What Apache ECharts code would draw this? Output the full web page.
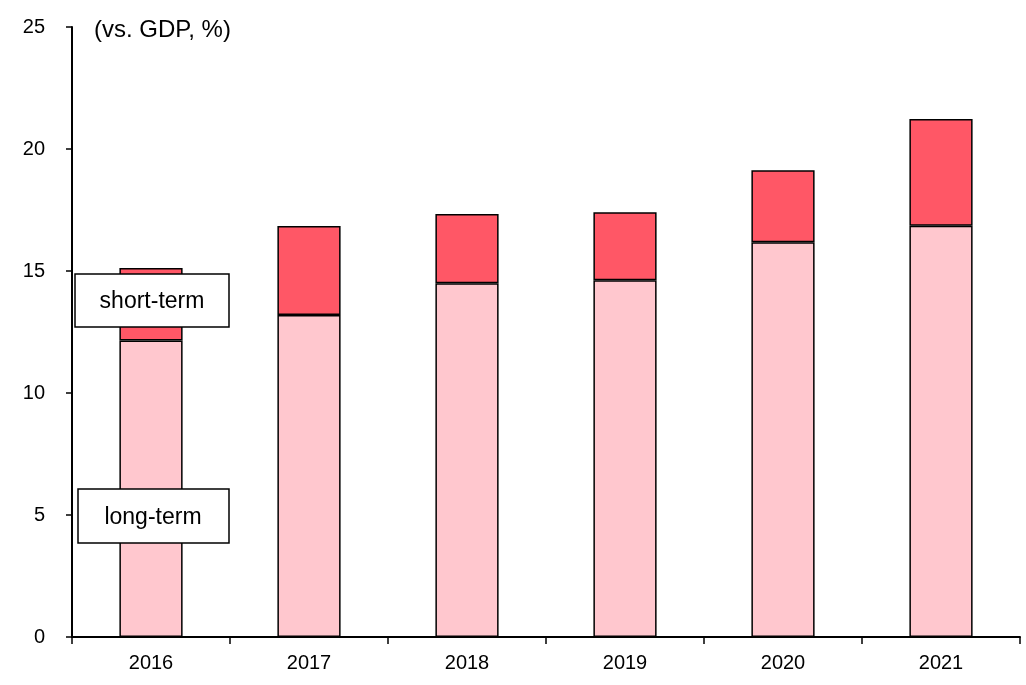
<!DOCTYPE html>
<html>
<head>
<meta charset="utf-8">
<script src="https://cdn.jsdelivr.net/npm/echarts@6/dist/echarts.min.js"></script>
<style>html,body{margin:0;padding:0;background:#fff}#c{width:1026px;height:685px}</style>
</head>
<body>
<div id="c"></div>
<script>
const categories = ['2016', '2017', '2018', '2019', '2020', '2021'];
const longTerm = [12.15, 13.2, 14.5, 14.62, 16.18, 16.85];
const shortTerm = [2.97, 3.64, 2.84, 2.79, 2.95, 4.38];
const yTicks = [0, 5, 10, 15, 20, 25];

const chart = echarts.init(document.getElementById('c'));
const font = 'Liberation Sans, Arial, sans-serif';
chart.setOption({
  animation: false,
  grid: { left: 72, right: 6, top: 27, bottom: 48 },
  xAxis: {
    type: 'category', data: categories,
    axisLine: { lineStyle: { color: '#000', width: 2 } },
    axisTick: { show: true, length: 7, lineStyle: { color: '#000', width: 1.5 }, interval: 0 },
    axisLabel: { color: '#000', fontSize: 20, fontFamily: font, margin: 16 }
  },
  yAxis: {
    type: 'value', min: yTicks[0], max: yTicks[yTicks.length - 1], interval: 5,
    splitLine: { show: false },
    axisLine: { show: true, lineStyle: { color: '#000', width: 2 } },
    axisTick: { show: true, length: 6, lineStyle: { color: '#000', width: 1.5 } },
    axisLabel: { color: '#000', fontSize: 20, fontFamily: font, margin: 27 }
  },
  series: [
    { name: 'long-term', type: 'bar', stack: 't', data: longTerm, barCategoryGap: '60%',
      itemStyle: { color: '#FFC7CE', borderColor: '#000', borderWidth: 1.5 } },
    { name: 'short-term', type: 'bar', stack: 't', data: shortTerm,
      itemStyle: { color: '#FF5766', borderColor: '#000', borderWidth: 1.5 } }
  ],
  graphic: [
    { type: 'text', left: 94, top: 18, style: { text: '(vs. GDP, %)', fontSize: 24, fontFamily: font, fill: '#000' } },
    { type: 'rect', shape: { x: 75, y: 274, width: 154, height: 53 },
      style: { fill: '#fff', stroke: '#000', lineWidth: 1.5 }, z: 100 },
    { type: 'text', x: 152, y: 302, style: { text: 'short-term', fontSize: 23, fontFamily: font, fill: '#000', align: 'center', verticalAlign: 'middle' }, z: 101 },
    { type: 'rect', shape: { x: 78, y: 489, width: 151, height: 54 },
      style: { fill: '#fff', stroke: '#000', lineWidth: 1.5 }, z: 100 },
    { type: 'text', x: 153, y: 518, style: { text: 'long-term', fontSize: 23, fontFamily: font, fill: '#000', align: 'center', verticalAlign: 'middle' }, z: 101 }
  ]
});
</script>
</body>
</html>
